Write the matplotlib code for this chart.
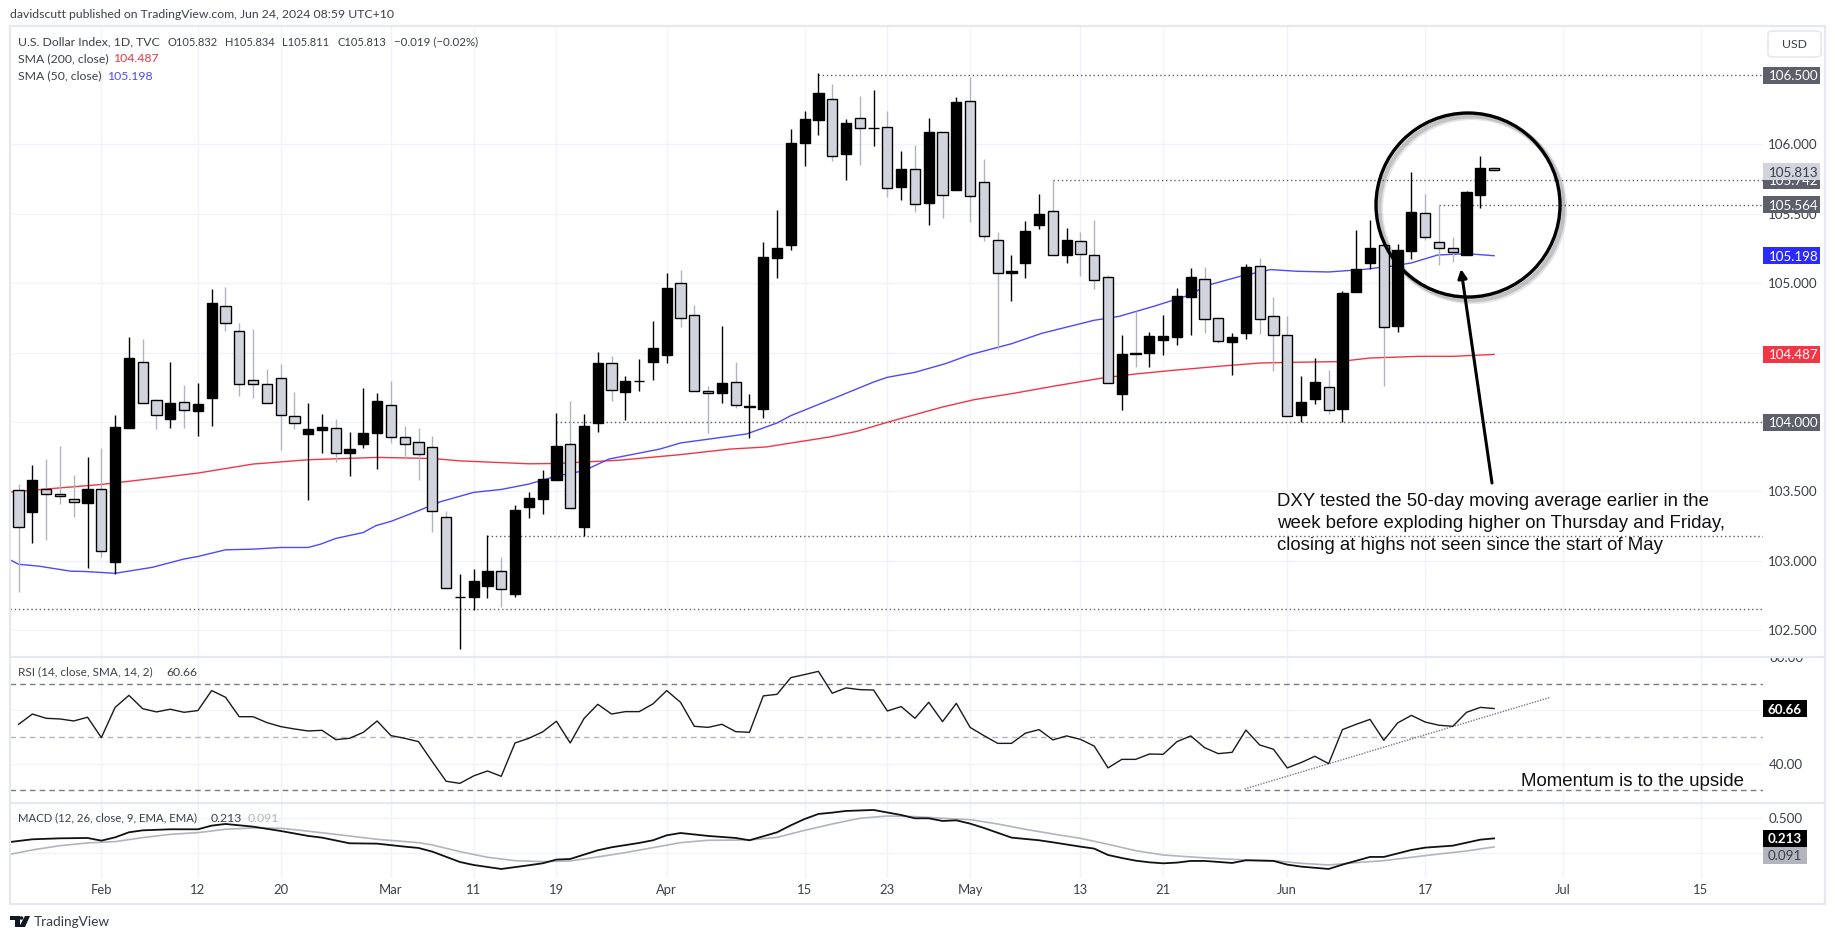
#!/usr/bin/env python3
# -*- coding: utf-8 -*-
"""DXY daily chart with SMA, RSI and MACD panes"""

import matplotlib
matplotlib.use("Agg")
import matplotlib.pyplot as plt
from matplotlib.patches import Ellipse, FancyArrowPatch, FancyBboxPatch, Polygon, Rectangle
from matplotlib.transforms import blended_transform_factory

W, H = 1835, 941

opens = [
    103.507, 103.354, 103.514, 103.478, 103.442, 103.418, 103.514, 102.994, 103.958, 104.435,
    104.155, 104.025, 104.147, 104.080, 104.174, 104.833, 104.653, 104.299, 104.277, 104.320,
    104.040, 103.915, 103.944, 103.960, 103.778, 103.843, 103.922, 104.126, 103.889, 103.853,
    103.817, 103.313, 102.737, 102.742, 102.821, 102.925, 102.764, 103.390, 103.447, 103.584,
    103.845, 103.246, 103.994, 104.428, 104.214, 104.293, 104.430, 104.480, 105.001, 104.769,
    104.223, 104.207, 104.288, 104.106, 104.091, 105.179, 105.273, 106.008, 106.173, 106.327,
    105.928, 106.190, 106.116, 106.125, 105.691, 105.823, 105.575, 106.089, 105.669, 106.313,
    105.727, 105.309, 105.071, 105.143, 105.417, 105.520, 105.201, 105.304, 105.203, 105.045,
    104.199, 104.497, 104.495, 104.588, 104.610, 104.898, 105.030, 104.749, 104.574, 104.639,
    105.122, 104.761, 104.624, 104.048, 104.163, 104.250, 104.091, 104.934, 105.143, 105.275,
    104.689, 105.230, 105.506, 105.297, 105.254, 105.201, 105.633, 105.832,
]
highs = [
    103.553, 103.689, 103.733, 103.826, 103.620, 103.747, 103.812, 104.049, 104.610, 104.596,
    104.169, 104.435, 104.265, 104.279, 104.958, 104.973, 104.713, 104.670, 104.380, 104.416,
    104.215, 104.136, 104.056, 104.020, 103.927, 104.243, 104.207, 104.294, 103.970, 103.956,
    103.898, 103.361, 102.905, 102.941, 103.184, 103.028, 103.402, 103.495, 103.653, 104.064,
    104.150, 104.056, 104.502, 104.478, 104.334, 104.456, 104.730, 105.076, 105.098, 104.845,
    104.262, 104.694, 104.435, 104.204, 105.299, 105.530, 106.113, 106.243, 106.517, 106.438,
    106.185, 106.351, 106.394, 106.243, 105.955, 105.998, 106.190, 106.089, 106.344, 106.488,
    105.897, 105.371, 105.206, 105.451, 105.645, 105.744, 105.400, 105.371, 105.458, 105.059,
    104.629, 104.797, 104.651, 104.773, 104.968, 105.112, 105.119, 104.757, 104.641, 105.138,
    105.182, 104.901, 104.766, 104.334, 104.461, 104.377, 104.946, 105.386, 105.458, 105.275,
    105.285, 105.801, 105.645, 105.563, 105.335, 105.664, 105.919, 105.834,
]
lows = [
    102.778, 103.131, 103.152, 103.411, 103.318, 102.951, 103.028, 102.908, 103.958, 104.140,
    103.951, 103.958, 103.958, 103.900, 103.972, 104.658, 104.188, 104.174, 104.140, 103.800,
    103.951, 103.440, 103.778, 103.713, 103.613, 103.814, 103.663, 103.848, 103.737, 103.582,
    103.210, 102.802, 102.368, 102.642, 102.735, 102.670, 102.742, 103.311, 103.339, 103.584,
    103.378, 103.181, 103.929, 104.152, 104.012, 104.221, 104.305, 104.423, 104.682, 104.223,
    103.918, 104.135, 104.098, 103.885, 104.026, 105.035, 105.242, 105.842, 106.070, 105.878,
    105.741, 105.849, 105.986, 105.619, 105.597, 105.511, 105.417, 105.467, 105.669, 105.439,
    105.302, 104.526, 104.869, 105.035, 105.393, 105.203, 105.143, 105.054, 104.961, 104.281,
    104.084, 104.394, 104.394, 104.480, 104.557, 104.629, 104.639, 104.569, 104.336, 104.596,
    104.632, 104.365, 104.043, 104.000, 104.127, 104.055, 104.002, 104.934, 105.102, 104.257,
    104.646, 105.177, 105.309, 105.129, 105.155, 105.201, 105.539, 105.811,
]
closes = [
    103.241, 103.582, 103.478, 103.464, 103.421, 103.514, 103.068, 103.963, 104.459, 104.140,
    104.054, 104.140, 104.083, 104.133, 104.857, 104.711, 104.277, 104.277, 104.140, 104.054,
    103.996, 103.946, 103.963, 103.780, 103.809, 103.920, 104.150, 103.889, 103.838, 103.773,
    103.356, 102.802, 102.742, 102.853, 102.925, 102.795, 103.363, 103.450, 103.586, 103.824,
    103.378, 103.968, 104.428, 104.227, 104.295, 104.298, 104.533, 104.968, 104.749, 104.223,
    104.207, 104.281, 104.122, 104.115, 105.189, 105.254, 106.012, 106.183, 106.370, 105.916,
    106.154, 106.118, 106.121, 105.686, 105.823, 105.571, 106.089, 105.635, 106.305, 105.628,
    105.340, 105.074, 105.088, 105.376, 105.499, 105.203, 105.311, 105.210, 105.023, 104.281,
    104.492, 104.492, 104.620, 104.620, 104.910, 105.045, 104.742, 104.584, 104.612, 105.117,
    104.742, 104.627, 104.043, 104.144, 104.288, 104.087, 104.929, 105.102, 105.254, 104.684,
    105.239, 105.513, 105.333, 105.254, 105.225, 105.657, 105.832, 105.813,
]

sma200_x = [-0.6, 2, 6, 10, 13, 17, 21, 26, 30, 32, 37, 39, 43.6, 48, 51.6, 54.2, 58.8, 60.8, 63,
            65, 67, 69.3, 72.3, 75, 78.6, 81, 83.7, 87, 90, 92.4, 95.7, 98, 101.5, 104, 107]
sma200_y = [103.495, 103.517, 103.550, 103.596, 103.632, 103.697, 103.728, 103.745, 103.737, 103.720,
            103.699, 103.701, 103.725, 103.765, 103.805, 103.820, 103.892, 103.933, 103.998,
            104.053, 104.108, 104.161, 104.209, 104.257, 104.317, 104.346, 104.372, 104.401,
            104.425, 104.430, 104.435, 104.461, 104.473, 104.473, 104.487]

sma50_x = [-0.6, 0, 1.5, 3.8, 4.8, 7, 9.7, 12, 13, 15, 17, 19, 21, 21.9, 23, 25, 25.9, 27, 29, 30.6,
           33, 35, 37, 39, 41, 42.8, 46.5, 48, 52.8, 55, 56, 59, 62, 63, 65, 67.2, 69, 72, 74.2,
           78, 79.8, 82.3, 84.6, 86.4, 88.6, 90.8, 92.7, 95, 97.4, 99.5, 101, 102.9, 105, 107]
sma50_y = [103.006, 102.975, 102.961, 102.925, 102.923, 102.910, 102.953, 103.013, 103.031, 103.079,
           103.084, 103.096, 103.096, 103.120, 103.161, 103.204, 103.253, 103.284, 103.361, 103.426,
           103.493, 103.514, 103.553, 103.610, 103.649, 103.733, 103.805, 103.849, 103.914, 103.993,
           104.046, 104.166, 104.288, 104.322, 104.358, 104.420, 104.485, 104.564, 104.639,
           104.733, 104.761, 104.833, 104.905, 104.990, 105.050, 105.098, 105.086, 105.081,
           105.098, 105.122, 105.146, 105.203, 105.213, 105.198]

rsi_vals = [
    54.75, 58.6, 57.0, 56.75, 56.0, 57.4, 49.75, 61.1, 65.6, 60.6,
    59.4, 60.4, 59.25, 59.9, 67.4, 64.9, 57.6, 57.6, 55.4, 53.9,
    53.0, 52.25, 52.5, 49.0, 49.5, 51.75, 56.0, 50.5, 49.5, 48.25,
    40.75, 33.4, 32.6, 35.4, 37.25, 35.25, 47.75, 49.5, 51.9, 55.9,
    47.75, 56.9, 62.25, 58.6, 59.5, 59.5, 62.4, 67.4, 63.0, 54.0,
    53.6, 54.75, 52.0, 51.75, 65.4, 66.0, 72.25, 73.4, 74.6, 66.4,
    68.4, 67.75, 67.6, 59.75, 61.4, 57.0, 63.0, 55.75, 62.6, 53.6,
    50.5, 47.6, 47.6, 51.4, 52.75, 48.9, 50.4, 49.1, 46.6, 38.4,
    41.6, 41.6, 43.6, 43.5, 48.25, 50.4, 46.0, 43.75, 44.25, 52.6,
    47.0, 45.4, 38.4, 40.4, 42.75, 40.0, 52.75, 54.75, 56.6, 48.75,
    55.25, 58.1, 55.6, 54.4, 54.0, 59.25, 61.1, 60.66,
]
rsi_trend_x = [88.9, 111]
rsi_trend_y = [30.5, 64.75]

macd_x = [-0.6, 1, 3, 5, 6, 7, 8, 9, 11, 13, 14, 15, 17, 19, 21, 22, 24, 26, 28, 29, 30, 32, 33, 35,
          37, 38, 39, 40, 42, 43, 45, 46, 47, 48, 50, 52, 53, 55, 56, 57, 58, 59, 60, 62, 64, 65,
          66, 67, 68, 69, 70, 72, 74, 75, 77, 78, 79, 80, 81, 82, 83, 84, 85, 86, 88, 89, 91, 92,
          93, 95, 96, 98, 99, 101, 102, 104, 105, 106, 107]
macd_y = [0.162, 0.200, 0.214, 0.219, 0.181, 0.228, 0.300, 0.328, 0.343, 0.343, 0.395, 0.419, 0.381,
          0.319, 0.248, 0.224, 0.143, 0.138, 0.095, 0.076, 0.024, -0.124, -0.167, -0.224,
          -0.171, -0.143, -0.090, -0.081, 0.043, 0.086, 0.148, 0.186, 0.257, 0.290, 0.248, 0.219,
          0.186, 0.300, 0.400, 0.490, 0.562, 0.581, 0.605, 0.619, 0.547, 0.500,
          0.500, 0.462, 0.471, 0.424, 0.362, 0.224, 0.186, 0.157, 0.095, 0.067, -0.024, -0.067,
          -0.105, -0.129, -0.143, -0.133, -0.109, -0.109, -0.138, -0.100, -0.109, -0.162,
          -0.190, -0.224, -0.162, -0.052, -0.052, 0.048, 0.081, 0.109, 0.152, 0.195, 0.213]
signal_x = [-0.6, 1, 3, 5, 7, 9, 11, 13, 15, 17, 19, 20, 23, 26, 29, 30, 32, 34, 36, 38, 40, 42, 44,
            46, 48, 50, 53, 55, 57, 59, 61, 63, 65, 67, 69, 71, 73, 75, 77, 79, 81, 83, 85, 87,
            89, 91, 93, 95, 97, 99, 101, 103, 105, 107]
signal_y = [-0.014, 0.048, 0.109, 0.148, 0.167, 0.224, 0.271, 0.295, 0.343, 0.362, 0.357, 0.338, 0.271,
            0.200, 0.152, 0.119, 0.024, -0.057, -0.105, -0.119, -0.109, -0.052, 0.010,
            0.081, 0.152, 0.186, 0.190, 0.228, 0.328, 0.419, 0.500, 0.533, 0.524, 0.500, 0.481,
            0.419, 0.343, 0.276, 0.214, 0.129, 0.038, -0.024, -0.052, -0.076,
            -0.095, -0.105, -0.143, -0.167, -0.133, -0.105, -0.057, -0.010, 0.033, 0.091]

date_ticks = [6, 13, 19, 27, 33, 39, 47, 57, 63, 69, 77, 83, 92, 102, 112, 122]
date_labels = ["Feb", "12", "20", "Mar", "11", "19", "Apr", "15", "23", "May", "13", "21", "Jun", "17", "Jul", "15"]

price_grid = [106.0, 105.5, 105.0, 104.5, 104.0, 103.5, 103.0, 102.5]
price_labels = ["106.000", "105.500", "105.000", None, None, "103.500", "103.000", "102.500"]

# level, first candle of the dotted line
levels = [106.5, 105.742, 105.564, 104.0, 103.18, 102.65]
level_starts = [58, 75, 103, 39, 34, -1]

TEXT = "#3c4049"
GRID = "#f0f3fa"
FRAME = "#e6e8ef"
DOWN_FILL = "#d1d4dc"
WICK_GREY = "#b2b5be"
RED = "#f23645"
BLUE = "#4a4aff"
TAG_GREY = "#5d606b"
FONT = "Lato"
FS = 8.8
FS_NUM = 8.0
ANNOT = 13.4

# x scale: 13.79 px per candle, candle 0 at 18.6 px
X0 = 10
X1 = 1763
IDX_L = (X0 - 18.6) / 13.79
IDX_R = (X1 - 18.6) / 13.79


def fx(px):
    return px / W


def fy(py):
    return 1 - py / H


def make_pane(fig, top, bottom, ymin, ymax):
    ax = fig.add_axes([fx(X0), fy(bottom), (X1 - X0) / W, (bottom - top) / H])
    ax.set_xlim(IDX_L, IDX_R)
    ax.set_ylim(ymin, ymax)
    for s in ax.spines.values():
        s.set_visible(False)
    ax.set_xticks([])
    ax.set_yticks([])
    ax.patch.set_alpha(0)
    for t in date_ticks:
        ax.axvline(t, color=GRID, lw=1, zorder=0)
    return ax


def put(px, py, txt, color=TEXT, ha="left", size=FS, **kw):
    kw.setdefault("family", FONT)
    return fig.text(fx(px), fy(py), txt, color=color, ha=ha, va="center", fontsize=size, **kw)


def tag(ax, y, txt, bg, fg, x0=1763, x1=1820, h_px=17, px_per_unit=138.8, z=6, weight="normal"):
    tr = blended_transform_factory(fig.transFigure, ax.transData)
    h = h_px / px_per_unit
    r = Rectangle((fx(x0), y - h / 2), fx(x1) - fx(x0), h, transform=tr, facecolor=bg,
                  edgecolor="none", clip_on=False, zorder=z)
    ax.add_patch(r)
    ax.text(fx((x0 + x1) / 2 + (2 if x1 == 1820 else 0)), y, txt, transform=tr, color=fg, ha="center",
            va="center_baseline", fontsize=FS + 0.8, family=FONT, clip_on=False, zorder=z + 0.5, fontweight=weight)


fig = plt.figure(figsize=(W / 100, H / 100), dpi=100, facecolor="white")

# main price pane
PX_PER_UNIT = 138.8
ax1 = make_pane(fig, 27, 656, 106.5 - (656 - 75) / PX_PER_UNIT, 106.5 + (75 - 27) / PX_PER_UNIT)
for p in price_grid:
    ax1.axhline(p, color=GRID, lw=1, zorder=0)

for lvl, start in zip(levels, level_starts):
    ax1.hlines(lvl, start if start >= 0 else IDX_L, IDX_R, color="#5d606b", lw=1, linestyles=(0, (1, 2)), zorder=1)

ax1.plot(sma200_x, sma200_y, color=RED, lw=1.0, zorder=2)
ax1.plot(sma50_x, sma50_y, color=BLUE, lw=1.0, zorder=2)

for i in range(len(opens)):
    up = closes[i] >= opens[i]
    ax1.plot([i, i], [lows[i], highs[i]], color="black" if up else WICK_GREY, lw=1, zorder=3,
             solid_capstyle="butt")
    low_body = min(opens[i], closes[i])
    ax1.add_patch(Rectangle((i - 0.37, low_body), 0.74, abs(closes[i] - opens[i]),
                            facecolor="black" if up else DOWN_FILL, edgecolor="black", lw=1, zorder=4))

for p, lab in zip(price_grid, price_labels):
    if lab:
        ax1.text(fx(1793), p, lab, transform=blended_transform_factory(fig.transFigure, ax1.transData),
                 ha="center", va="center_baseline", color=TEXT, fontsize=FS + 0.8, family=FONT, clip_on=False)

tag(ax1, 106.5, "106.500", TAG_GREY, "white")
tag(ax1, 105.742, "105.742", TAG_GREY, "white")
tag(ax1, 105.804, "105.813", DOWN_FILL, TEXT, z=7)
tag(ax1, 105.564, "105.564", TAG_GREY, "white")
tag(ax1, 105.198, "105.198", "#2b2bff", "white")
tag(ax1, 104.487, "104.487", RED, "white")
tag(ax1, 104.0, "104.000", TAG_GREY, "white")

# RSI pane
RSI_PX = 2.667
ax2 = make_pane(fig, 658, 802, 60 - (802 - 710.3) / RSI_PX, 60 + (710.3 - 658) / RSI_PX)
ax2.axhline(60, color=GRID, lw=1, zorder=0)
ax2.axhline(40, color=GRID, lw=1, zorder=0)
ax2.axhline(70, color="#787b86", lw=1, ls=(0, (4, 3)), zorder=1)
ax2.axhline(50, color=WICK_GREY, lw=1, ls=(0, (4, 3)), zorder=1)
ax2.axhline(30, color="#787b86", lw=1, ls=(0, (4, 3)), zorder=1)
ax2.plot(range(len(rsi_vals)), rsi_vals, color="#1a1a1a", lw=1, zorder=3)
ax2.plot(rsi_trend_x, rsi_trend_y, color="#787b86", lw=1, ls=(0, (1, 1)), zorder=2)
tr2 = blended_transform_factory(fig.transFigure, ax2.transData)
ax2.text(fx(1786), 40, "40.00", transform=tr2, ha="center", va="center_baseline", color=TEXT, fontsize=FS + 0.8,
         family=FONT, clip_on=False)
put(1786, 657.5, "80.00", ha="center", size=FS + 0.8, zorder=3)
# top of the 80.00 label is cut by the pane edge
fig.add_artist(Rectangle((fx(1763), fy(657.5)), 50 / W, 12 / H, transform=fig.transFigure,
                         facecolor="white", edgecolor="none", zorder=3.5))
tag(ax2, 60.66, "60.66", "black", "white", x1=1807, px_per_unit=RSI_PX, weight="bold")

# MACD pane
MACD_PX = 70.0
ax3 = make_pane(fig, 804, 878, -(878 - 853.3) / MACD_PX, (853.3 - 804) / MACD_PX)
ax3.axhline(0.5, color=GRID, lw=1, zorder=0)
ax3.axhline(0, color=GRID, lw=1, zorder=0)
ax3.plot(signal_x, signal_y, color=WICK_GREY, lw=1.2, zorder=2)
ax3.plot(macd_x, macd_y, color="#111111", lw=1.3, zorder=3)
tr3 = blended_transform_factory(fig.transFigure, ax3.transData)
ax3.text(fx(1786), 0.5, "0.500", transform=tr3, ha="center", va="center_baseline", color=TEXT, fontsize=FS + 0.8,
         family=FONT, clip_on=False)
tag(ax3, 0.213, "0.213", "black", "white", x1=1807, px_per_unit=MACD_PX, weight="bold")
# the 0.091 box sits just under the 0.213 box, not on its own value
tag(ax3, -0.029, "0.091", WICK_GREY, TEXT, x1=1807, px_per_unit=MACD_PX)

# date axis
for t, lab in zip(date_ticks, date_labels):
    put(18.6 + 13.79 * t, 890, lab, ha="center", size=FS + 0.6)

# frame and pane separators
fig.add_artist(Rectangle((fx(9.5), fy(904)), (1825 - 9.5) / W, (904 - 26) / H, transform=fig.transFigure,
                         facecolor="none", edgecolor=FRAME, lw=1.6, zorder=4))
for py in (656.5, 802.5):
    fig.add_artist(Rectangle((fx(9.5), fy(py)), (1825 - 9.5) / W, 0, transform=fig.transFigure,
                             facecolor="none", edgecolor=FRAME, lw=1.6, zorder=4))

# header text
put(10, 15, "davidscutt published on TradingView.com, Jun 24, 2024 08:59 UTC+10")
put(18, 42, "U.S. Dollar Index, 1D, TVC")
put(167, 42, "O105.832", size=FS_NUM)
put(224.6, 42, "H105.834", size=FS_NUM)
put(282, 42, "L105.811", size=FS_NUM)
put(337, 42, "C105.813", size=FS_NUM)
put(394, 42, "−0.019 (−0.02%)", size=FS_NUM + 0.3)
put(18, 59, "SMA (200, close)")
put(113.5, 59, "104.487", color=RED)
put(18, 76, "SMA (50, close)")
put(107.5, 76, "105.198", color=BLUE)
put(18, 672, "RSI (14, close, SMA, 14, 2)", size=8.5)
put(166, 672, "60.66")
put(18, 818, "MACD (12, 26, close, 9, EMA, EMA)", size=8.2)
put(210.7, 818, "0.213")
put(247.6, 818, "0.091", color=WICK_GREY)

# currency button
fig.add_artist(FancyBboxPatch((fx(1768), fy(57)), 53 / W, 26 / H,
                              boxstyle="round,pad=0,rounding_size=0.003", transform=fig.transFigure,
                              facecolor="white", edgecolor=FRAME, lw=1.2, zorder=4,
                              mutation_aspect=H / W * 1.9))
put(1794, 44, "USD", ha="center", zorder=5)

# annotations
put(1277, 502, "DXY tested the 50-day moving average earlier in the", color="#111111", size=ANNOT, family="Liberation Sans", zorder=6)
put(1277, 524, "week before exploding higher on Thursday and Friday,", color="#111111", size=ANNOT, family="Liberation Sans", zorder=6)
put(1277, 546, "closing at highs not seen since the start of May", color="#111111", size=ANNOT, family="Liberation Sans", zorder=6)
put(1520.5, 782, "Momentum is to the upside", color="#111111", size=ANNOT, family="Liberation Sans", zorder=6)

# circle with soft shadow, arrow
for off, alpha, lw in ((4, 0.10, 4.5), (3, 0.15, 3.5)):
    fig.add_artist(Ellipse((fx(1468 + off), fy(205 + off)), 184 / W, 184 / H, transform=fig.transFigure,
                           facecolor="none", edgecolor="black", lw=lw, alpha=alpha, zorder=5))
fig.add_artist(Ellipse((fx(1468), fy(205)), 184 / W, 184 / H, transform=fig.transFigure,
                       facecolor="none", edgecolor="black", lw=2.4, zorder=5))
fig.add_artist(FancyArrowPatch((fx(1492), fy(483)), (fx(1461), fy(269)), transform=fig.transFigure,
                               arrowstyle="-|>", mutation_scale=13, color="black", lw=2.2, zorder=5,
                               shrinkA=0, shrinkB=0))

# logo
fig.add_artist(Polygon([(fx(10), fy(916)), (fx(20), fy(916)), (fx(20), fy(927)), (fx(15), fy(927)),
                        (fx(15), fy(920)), (fx(10), fy(920))], transform=fig.transFigure,
                       facecolor="#131722", edgecolor="none"))
fig.add_artist(Ellipse((fx(21.5), fy(918)), 3.6 / W, 3.6 / H, transform=fig.transFigure, facecolor="#131722", edgecolor="none"))
fig.add_artist(Polygon([(fx(25), fy(916)), (fx(30), fy(916)), (fx(25), fy(927)), (fx(19), fy(927))],
                       transform=fig.transFigure, facecolor="#131722", edgecolor="none"))
put(34, 922, "TradingView", color="#363a45", size=FS + 1.0)

fig.savefig("out.png", dpi=100)
plt.close(fig)
